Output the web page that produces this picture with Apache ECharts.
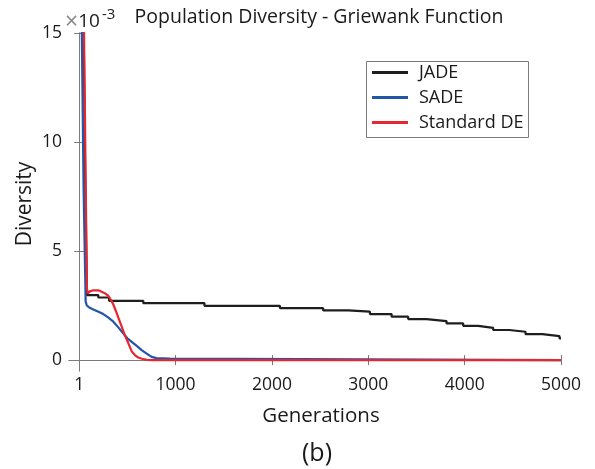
<!DOCTYPE html>
<html><head><meta charset="utf-8">
<script src="https://cdn.jsdelivr.net/npm/echarts@6/dist/echarts.min.js"></script>
<style>html,body{margin:0;padding:0;background:#fff}#c{width:595px;height:469px}</style>
</head><body><div id="c"></div>
<script>
// values in units of 1e-3
const seriesNames = ['JADE', 'SADE', 'Standard DE'];
const xTicks = [1, 1000, 2000, 3000, 4000, 5000];
const yTicks = [0, 5, 10, 15];
// JADE: initial descent, then staircase (step generation -> new level)
const jadeHead = [[1, 60], [40, 18], [60, 9], [80, 2.98]];
const jadeStepGens = [198, 310, 665, 1300, 2083, 2532, 2792, 3017, 3242, 3414, 3605, 3812, 3985, 4140, 4296, 4462, 4632, 4808, 4984];
const jadeStepLevels = [2.87, 2.72, 2.61, 2.49, 2.38, 2.28, 2.22, 2.11, 1.99, 1.88, 1.79, 1.68, 1.57, 1.48, 1.38, 1.30, 1.19, 1.10, 1.0];
const jadeEndGen = 5000;
const sade = [[1, 60], [27, 15], [45, 8], [67, 2.68], [78, 2.52], [100, 2.42], [146, 2.32], [200, 2.22], [250, 2.11], [300, 1.96], [354, 1.76], [406, 1.5], [458, 1.22], [500, 1.0], [545, 0.84], [600, 0.64], [648, 0.46], [700, 0.3], [752, 0.15], [800, 0.09], [940, 0.07], [945, 0], [5000, 0]];
const standardDE = [[1, 60], [50, 15], [65, 9], [80, 3.3], [88, 3.06], [110, 3.15], [146, 3.2], [198, 3.2], [233, 3.13], [260, 3.08], [302, 2.95], [330, 2.75], [354, 2.55], [390, 2.14], [406, 1.95], [440, 1.55], [475, 1.12], [510, 0.77], [545, 0.4], [580, 0.22], [613, 0.12], [650, 0.06], [700, 0.01], [750, 0], [5000, 0]];

const jade = jadeHead.slice();
let prev = jadeHead[jadeHead.length - 1][1];
jadeStepGens.forEach((g, i) => { jade.push([g, prev]); jade.push([g, jadeStepLevels[i]]); prev = jadeStepLevels[i]; });
jade.push([jadeEndGen, prev]);

const FONT = 'Open Sans';
const axisCol = '#7a7a7a';
const txt = '#1a1a1a';
const colors = ['#1e1e1e', '#2156a8', '#e8262d'];
const chart = echarts.init(document.getElementById('c'));
const baseX = {type: 'value', min: -106, max: 5000, splitLine: {show: false},
  axisLine: {show: true, lineStyle: {color: axisCol, width: 1}},
  axisTick: {show: true, inside: true, length: 5, customValues: xTicks, lineStyle: {color: axisCol}}};
const baseY = {type: 'value', min: -0.5, max: 15, splitLine: {show: false},
  axisLine: {show: true, lineStyle: {color: axisCol, width: 1}},
  axisTick: {show: true, inside: true, length: 5, customValues: yTicks, lineStyle: {color: axisCol}}};
chart.setOption({
  animation: false,
  color: colors,
  grid: {left: 69, right: 34, top: 33, bottom: 98, containLabel: false},
  xAxis: [
    Object.assign({}, baseX, {position: 'bottom', axisLabel: {show: true, customValues: xTicks, margin: 5, color: txt, fontSize: 17.5, fontFamily: FONT, formatter: v => String(v)}}),
    Object.assign({}, baseX, {position: 'top', axisLabel: {show: false}})
  ],
  yAxis: [
    Object.assign({}, baseY, {position: 'left', axisLabel: {show: true, customValues: yTicks, margin: 7, color: txt, fontSize: 17.5, fontFamily: FONT}}),
    Object.assign({}, baseY, {position: 'right', axisLabel: {show: false}})
  ],
  legend: {
    orient: 'vertical', left: 367, top: 57, padding: 5, icon: 'rect', itemWidth: 36, itemHeight: 3, itemGap: 4,
    textStyle: {fontSize: 18, fontFamily: FONT, color: txt, lineHeight: 21, padding: [0, 0, 0, 6]},
    data: seriesNames
  },
  series: [
    {name: seriesNames[0], type: 'line', data: jade, showSymbol: false, lineStyle: {width: 2.2, color: colors[0]}, clip: true, z: 2},
    {name: seriesNames[1], type: 'line', data: sade, showSymbol: false, lineStyle: {width: 2.2, color: colors[1]}, clip: true, z: 3},
    {name: seriesNames[2], type: 'line', data: standardDE, showSymbol: false, lineStyle: {width: 2.2, color: colors[2]}, clip: true, z: 4}
  ],
  graphic: [
    {type: 'rect', shape: {x: 366.5, y: 61.5, width: 162, height: 76}, style: {fill: 'none', stroke: '#7a7a7a', lineWidth: 1}, z: 1},
    {type: 'text', x: 319, y: 17, style: {text: 'Population Diversity - Griewank Function', fontSize: 19.5, fontFamily: FONT, fill: txt, textAlign: 'center', textVerticalAlign: 'middle'}},
    {type: 'text', x: 65, y: 22, style: {text: '{a|×}{b|10}{c|-3}', textVerticalAlign: 'middle',
      rich: {a: {fontSize: 23, fontFamily: FONT, fill: '#888'}, b: {fontSize: 19, fontFamily: FONT, fill: txt}, c: {fontSize: 15, fontFamily: FONT, fill: txt, padding: [0, 0, 14, 2]}}}},
    {type: 'text', x: 25, y: 204, rotation: Math.PI / 2, style: {text: 'Diversity', fontSize: 21, fontFamily: FONT, fill: txt, textAlign: 'center', textVerticalAlign: 'middle'}},
    {type: 'text', x: 321, y: 416, style: {text: 'Generations', fontSize: 20.5, fontFamily: FONT, fill: txt, textAlign: 'center', textVerticalAlign: 'middle'}},
    {type: 'text', x: 317, y: 454, style: {text: '(b)', fontSize: 25, fontFamily: FONT, fill: txt, textAlign: 'center', textVerticalAlign: 'middle'}}
  ]
});
</script></body></html>
